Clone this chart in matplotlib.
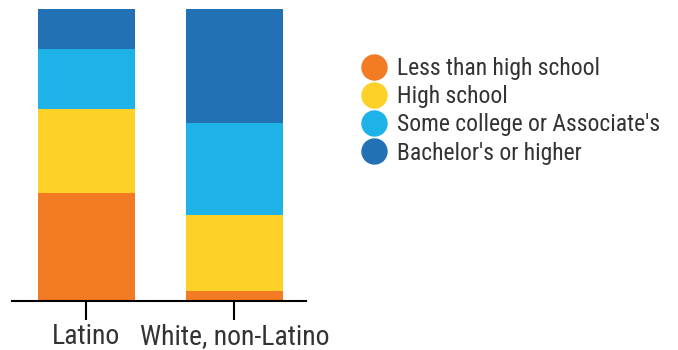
import matplotlib
matplotlib.use("Agg")
import matplotlib.pyplot as plt
from matplotlib.lines import Line2D

plt.rcParams["font.family"] = ["Roboto Condensed", "Roboto", "DejaVu Sans"]

# educational attainment shares (%), bottom to top
groups = ["Latino", "White, non-Latino"]
levels = ["Less than high school", "High school",
          "Some college or Associate's", "Bachelor's or higher"]
less_than_hs = [37.0, 3.3]
high_school = [28.7, 26.1]
some_college = [20.6, 31.5]
bachelors = [13.7, 39.1]
colors = ["#F27B23", "#FDD128", "#1EB3E8", "#2271B4"]

fig = plt.figure(figsize=(6.78, 3.5), dpi=100)
ax = fig.add_axes([0.0177, 0.14, 0.4336, 0.834])

x = range(len(groups))
bottom = [0.0, 0.0]
for vals, c in zip([less_than_hs, high_school, some_college, bachelors], colors):
    ax.bar(x, vals, width=0.656, bottom=bottom, color=c, linewidth=0)
    bottom = [b + v for b, v in zip(bottom, vals)]

ax.set_xlim(-0.504, 1.485)
ax.set_ylim(0, 100)
for s in ["top", "right", "left"]:
    ax.spines[s].set_visible(False)
ax.spines["bottom"].set_linewidth(1.5)
ax.set_yticks([])
ax.set_xticks(list(x))
ax.set_xticklabels(groups, fontsize=20, color="#333333")
ax.tick_params(axis="x", length=13.7, width=1.5, pad=2)

handles = [Line2D([], [], marker="o", linestyle="", markersize=18,
                  markerfacecolor=c, markeredgecolor=c) for c in colors]
fig.legend(handles, levels, loc="upper left", bbox_to_anchor=(0.533, 0.837),
           frameon=False, fontsize=17, labelcolor="#333333",
           handletextpad=0.45, labelspacing=0.22, borderpad=0, borderaxespad=0,
           handlelength=1.06)

fig.savefig("out.png", dpi=100)
